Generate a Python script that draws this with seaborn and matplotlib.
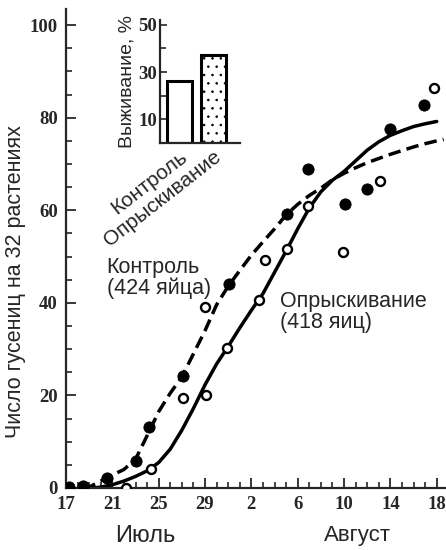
import numpy as np
import pandas as pd
import seaborn as sns
import matplotlib.pyplot as plt
from matplotlib.ticker import MultipleLocator, FixedLocator

# day numbers: 17..31 = July, 32.. = August (32 -> 1 Aug)
control_days = [17.3, 18.5, 20.5, 23.0, 24.2, 27.1, 31.1, 36.1, 37.9, 41.1, 43.0, 45.0, 47.9]
control_vals = [0.3, 0.5, 2.2, 5.8, 13.2, 24.2, 44.0, 59.3, 69.0, 61.3, 64.6, 77.5, 82.8]

spray_days = [22.2, 24.3, 27.1, 29.1, 29.0, 30.9, 33.7, 34.2, 36.1, 37.9, 40.9, 44.1, 48.8]
spray_vals = [0.0, 4.1, 19.4, 20.0, 39.2, 30.3, 40.6, 49.2, 51.7, 61.0, 51.0, 66.3, 86.5]

# fitted curves
spray_curve_days = [19.3, 20, 21, 22, 23, 24, 25, 26, 27, 28, 29, 30, 31, 32, 33, 34,
                    35, 36, 37, 38, 39, 40, 41, 42, 43, 44, 45, 46, 47, 48, 49]
spray_curve_vals = [0, 0.2, 0.7, 1.5, 2.5, 3.7, 5.5, 8.4, 12.5, 17.2, 22.3, 26.8, 30.6, 34.6, 38.4, 42.0,
                    46.6, 51.2, 56.0, 60.5, 64.0, 66.5, 68.4, 70.7, 73.0, 74.8, 76.2, 77.2, 78.1, 78.7, 79.2]

control_curve_days = [18.5, 19, 20, 21, 22, 23, 24, 25, 26, 27, 28, 29, 30, 31, 32, 33, 34,
                      35, 36, 37, 38, 39, 40, 41, 42, 43, 44, 45, 46, 47, 48, 49, 49.6]
control_curve_vals = [0, 0.2, 1.5, 2.8, 4.0, 6.2, 11.3, 16.5, 20.5, 24.0, 29.0, 34.0, 39.6, 43.6, 47.0, 50.3, 53.2,
                      56.0, 59.0, 61.3, 63.2, 64.8, 66.6, 68.0, 69.2, 70.3, 71.2, 72.1, 72.9, 73.7, 74.4, 75.0, 75.3]

xtick_days = [17, 21, 25, 29, 33, 37, 41, 45, 49]
xtick_labels = ['17', '21', '25', '29', '2', '6', '10', '14', '18']

bar_groups = ['Контроль', 'Опрыскивание']
bar_survival = [26.4, 37.0]

sns.set_style('ticks')
plt.rcParams['font.family'] = ['Liberation Sans', 'DejaVu Sans']
plt.rcParams['hatch.linewidth'] = 0.6

fig = plt.figure(figsize=(4.46, 5.5), dpi=100)
ax = fig.add_axes([66 / 446, 62 / 550, 380 / 446, 479 / 550])

sns.lineplot(x=spray_curve_days, y=spray_curve_vals, color='black', lw=2.5,
             estimator=None, sort=False, ax=ax, zorder=2)
sns.lineplot(x=control_curve_days, y=control_curve_vals, color='black', lw=2.5,
             estimator=None, sort=False, ax=ax, zorder=2,
             linestyle=(0, (3.6, 1.8)))
sns.scatterplot(x=control_days, y=control_vals, color='black', s=65,
                edgecolor='black', ax=ax, zorder=3)
sns.scatterplot(x=spray_days, y=spray_vals, facecolor='white', s=42,
                edgecolor='black', linewidth=1.7, ax=ax, zorder=4)

ax.set_xlim(17, 49.8)
ax.set_ylim(0, 103.5)
sns.despine(ax=ax)
for s in ['left', 'bottom']:
    ax.spines[s].set_linewidth(1.6)

ax.xaxis.set_major_locator(FixedLocator(xtick_days))
ax.xaxis.set_minor_locator(MultipleLocator(1))
ax.set_xticklabels(xtick_labels)
ax.yaxis.set_major_locator(MultipleLocator(20))
ax.yaxis.set_minor_locator(MultipleLocator(5))
ax.tick_params(which='major', direction='in', length=7, width=1.3, pad=6)
ax.tick_params(which='minor', direction='in', length=4, width=1.2)
for lab in ax.get_xticklabels() + ax.get_yticklabels():
    lab.set_family('Liberation Serif')
    lab.set_fontweight('bold')
    lab.set_fontsize(13.5)

ax.set_xlabel('')
ax.set_ylabel('Число гусениц на 32 растениях', fontsize=15.5)
ax.yaxis.set_label_coords(-0.105, 0.43)

ax.text(23.8, -0.1, 'Июль', transform=ax.get_xaxis_transform(),
        ha='center', va='center', fontsize=17)
ax.text(42.2, -0.1, 'Август', transform=ax.get_xaxis_transform(),
        ha='center', va='center', fontsize=16)

ax.text(20.5, 50.0, 'Контроль\n(424 яйца)', ha='left', va='top',
        fontsize=15.5, linespacing=1.0)
ax.text(35.5, 42.5, 'Опрыскивание\n(418 яиц)', ha='left', va='top',
        fontsize=15.5, linespacing=1.0)

# inset bar chart
ins = fig.add_axes([160 / 446, 1 - 143 / 550, 80 / 446, 123 / 550])
bars_df = pd.DataFrame({'group': bar_groups, 'survival': bar_survival})
sns.barplot(data=bars_df, x='group', y='survival', ax=ins, width=0.74,
            color='white', edgecolor='black', linewidth=2.2)
ins.patches[1].set_hatch('..')
ins.set_xlim(-0.57, 1.78)
ins.set_ylim(0, 52)
sns.despine(ax=ins)
for s in ['left', 'bottom']:
    ins.spines[s].set_linewidth(1.6)
ins.yaxis.set_major_locator(FixedLocator([10, 30, 50]))
ins.yaxis.set_minor_locator(FixedLocator([20, 40]))
ins.tick_params(axis='y', which='major', direction='in', length=5, width=1.2, pad=2)
ins.tick_params(axis='y', which='minor', direction='in', length=4, width=1.2)
ins.tick_params(axis='x', length=0, pad=3)
for lab in ins.get_yticklabels():
    lab.set_family('Liberation Serif')
    lab.set_fontweight('bold')
    lab.set_fontsize(13.5)
ins.set_xticks([0, 1])
ins.set_xticklabels(bar_groups, rotation=38, ha='right', rotation_mode='anchor',
                    fontsize=15)
ins.set_xlabel('')
ins.set_ylabel('Выживание, %', fontsize=14, labelpad=2)
ins.patch.set_alpha(0)

fig.savefig('out.png', dpi=100)
